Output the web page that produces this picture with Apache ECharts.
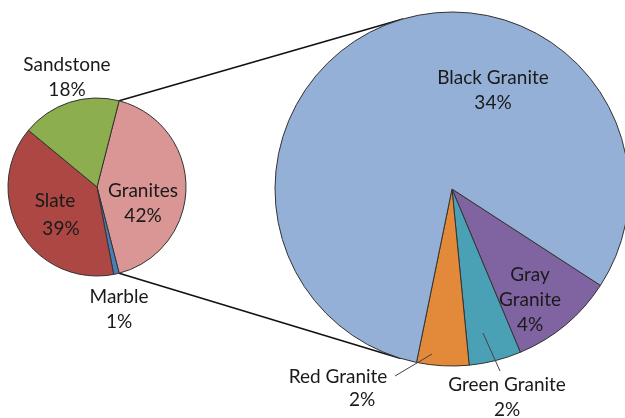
<!DOCTYPE html>
<html>
<head>
<meta charset="utf-8">
<script src="https://cdn.jsdelivr.net/npm/echarts@6/dist/echarts.min.js"></script>
<style>
  html, body { margin: 0; padding: 0; background: #ffffff; }
  #chart { width: 625px; height: 418px; }
</style>
</head>
<body>
<div id="chart"></div>
<script>
// Stone types (main pie), in clockwise drawing order
const stoneNames  = ['Granites', 'Marble', 'Slate', 'Sandstone'];
const stoneShares = [42, 1, 39, 18];

// Breakdown of granites (secondary pie), in clockwise drawing order
const graniteNames  = ['Gray Granite', 'Green Granite', 'Red Granite', 'Black Granite'];
const graniteShares = [4, 2, 2, 34];

// Multi-line label texts
const labelText = {
  'Granites': '{t|Granites}\n{t|42%}',
  'Marble': '{t|Marble}\n{t|1%}',
  'Slate': '{t|Slate}\n{s|39%}',
  'Sandstone': '{t|Sandstone}\n{t|18%}',
  'Gray Granite': '{t|Gray}\n{t|Granite}\n{t|4%}',
  'Green Granite': '{t|Green Granite}\n{t|2%}',
  'Red Granite': '{t|Red Granite}\n{r|2%}',
  'Black Granite': '{t|Black Granite}\n{t|34%}'
};

const stoneColors = {
  'Granites': '#D99694', 'Marble': '#4A7EBB', 'Slate': '#AD4743', 'Sandstone': '#8DAE4E'
};
const graniteColors = {
  'Gray Granite': '#8064A2', 'Green Granite': '#4AA0B4', 'Red Granite': '#E38A3A', 'Black Granite': '#95B0D7'
};

// Geometry of the two pies (px)
const mainC = [97, 187], mainR = 89;
const subC = [452, 189], subR = 177;

// Label anchor points (centre of each label box)
const labelPos = {
  'Granites': [143, 203], 'Marble': [119, 309], 'Slate': [55, 216], 'Sandstone': [67, 77],
  'Gray Granite': [530, 300], 'Green Granite': [507, 397], 'Red Granite': [338, 387], 'Black Granite': [493, 90]
};
// Leader lines for the two thin slices, drawn above the sectors
const leaderLines = {
  'Red Granite': [[432, 354], [395, 376]],
  'Green Granite': [[483, 333], [500, 371]]
};

const FONT = 'Lato, "Open Sans", sans-serif';
const TXT = '#1a1a1a';
const richStyles = {
  t: { fontFamily: FONT, fontSize: 19, color: TXT, lineHeight: 25 },
  s: { fontFamily: FONT, fontSize: 19, color: TXT, lineHeight: 31, padding: [0, 0, 0, 12] },
  r: { fontFamily: FONT, fontSize: 19, color: TXT, lineHeight: 21, padding: [0, 0, 0, 48] }
};

function buildData(names, values, colors) {
  return names.map((n, i) => ({
    name: n,
    value: values[i],
    itemStyle: { color: colors[n] }
  }));
}

function layoutLabel(params) {
  const n = params.seriesIndex === 0 ? stoneNames[params.dataIndex] : graniteNames[params.dataIndex];
  const p = labelPos[n];
  return { x: p[0], y: p[1], align: 'center', verticalAlign: 'middle' };
}

const stoneTotal = stoneShares.reduce((a, b) => a + b, 0);
// Granite slice is centred on the horizontal axis, facing the secondary pie
const mainStart = stoneShares[0] / stoneTotal * 360 / 2;

// Connector lines: from the edges of the granite slice to tangent points on the secondary pie
function tangentPoint(from, sign) {
  const dx = subC[0] - from[0], dy = subC[1] - from[1];
  const d = Math.sqrt(dx * dx + dy * dy);
  const base = Math.atan2(dy, dx);
  const off = Math.asin(subR / d);
  const len = Math.sqrt(d * d - subR * subR);
  const a = base + sign * off;
  return [from[0] + len * Math.cos(a), from[1] + len * Math.sin(a)];
}
const a0 = mainStart * Math.PI / 180;
const a1 = (mainStart - stoneShares[0] / stoneTotal * 360) * Math.PI / 180;
const topEdge = [mainC[0] + mainR * Math.cos(a0), mainC[1] - mainR * Math.sin(a0)];
const botEdge = [mainC[0] + mainR * Math.cos(a1), mainC[1] - mainR * Math.sin(a1)];
const topTan = tangentPoint(topEdge, -1);
const botTan = tangentPoint(botEdge, 1);

const graphics = [
  { type: 'line', shape: { x1: topEdge[0], y1: topEdge[1], x2: topTan[0], y2: topTan[1] },
    style: { stroke: '#111', lineWidth: 1.6 }, z: 0 },
  { type: 'line', shape: { x1: botEdge[0], y1: botEdge[1], x2: botTan[0], y2: botTan[1] },
    style: { stroke: '#111', lineWidth: 1.6 }, z: 0 }
];
Object.keys(leaderLines).forEach(k => {
  const pts = leaderLines[k];
  graphics.push({ type: 'line', shape: { x1: pts[0][0], y1: pts[0][1], x2: pts[1][0], y2: pts[1][1] },
    style: { stroke: '#444', lineWidth: 1 }, z: 10 });
});

const chart = echarts.init(document.getElementById('chart'), null, { renderer: 'canvas' });
chart.setOption({
  backgroundColor: '#ffffff',
  animation: false,
  graphic: graphics,
  series: [
    {
      type: 'pie',
      center: mainC,
      radius: mainR,
      startAngle: mainStart,
      clockwise: true,
      avoidLabelOverlap: false,
      silent: true,
      itemStyle: { borderColor: '#333', borderWidth: 1 },
      label: { show: true, position: 'inside', formatter: p => labelText[p.name], rich: richStyles, align: 'center' },
      labelLine: { show: false },
      labelLayout: layoutLabel,
      data: buildData(stoneNames, stoneShares, stoneColors),
      z: 2
    },
    {
      type: 'pie',
      center: subC,
      radius: subR,
      startAngle: -33,
      clockwise: true,
      avoidLabelOverlap: false,
      silent: true,
      itemStyle: { borderColor: '#333', borderWidth: 1 },
      label: { show: true, position: 'inside', formatter: p => labelText[p.name], rich: richStyles, align: 'center' },
      labelLine: { show: false },
      labelLayout: layoutLabel,
      data: buildData(graniteNames, graniteShares, graniteColors),
      z: 2
    }
  ]
});
</script>
</body>
</html>
